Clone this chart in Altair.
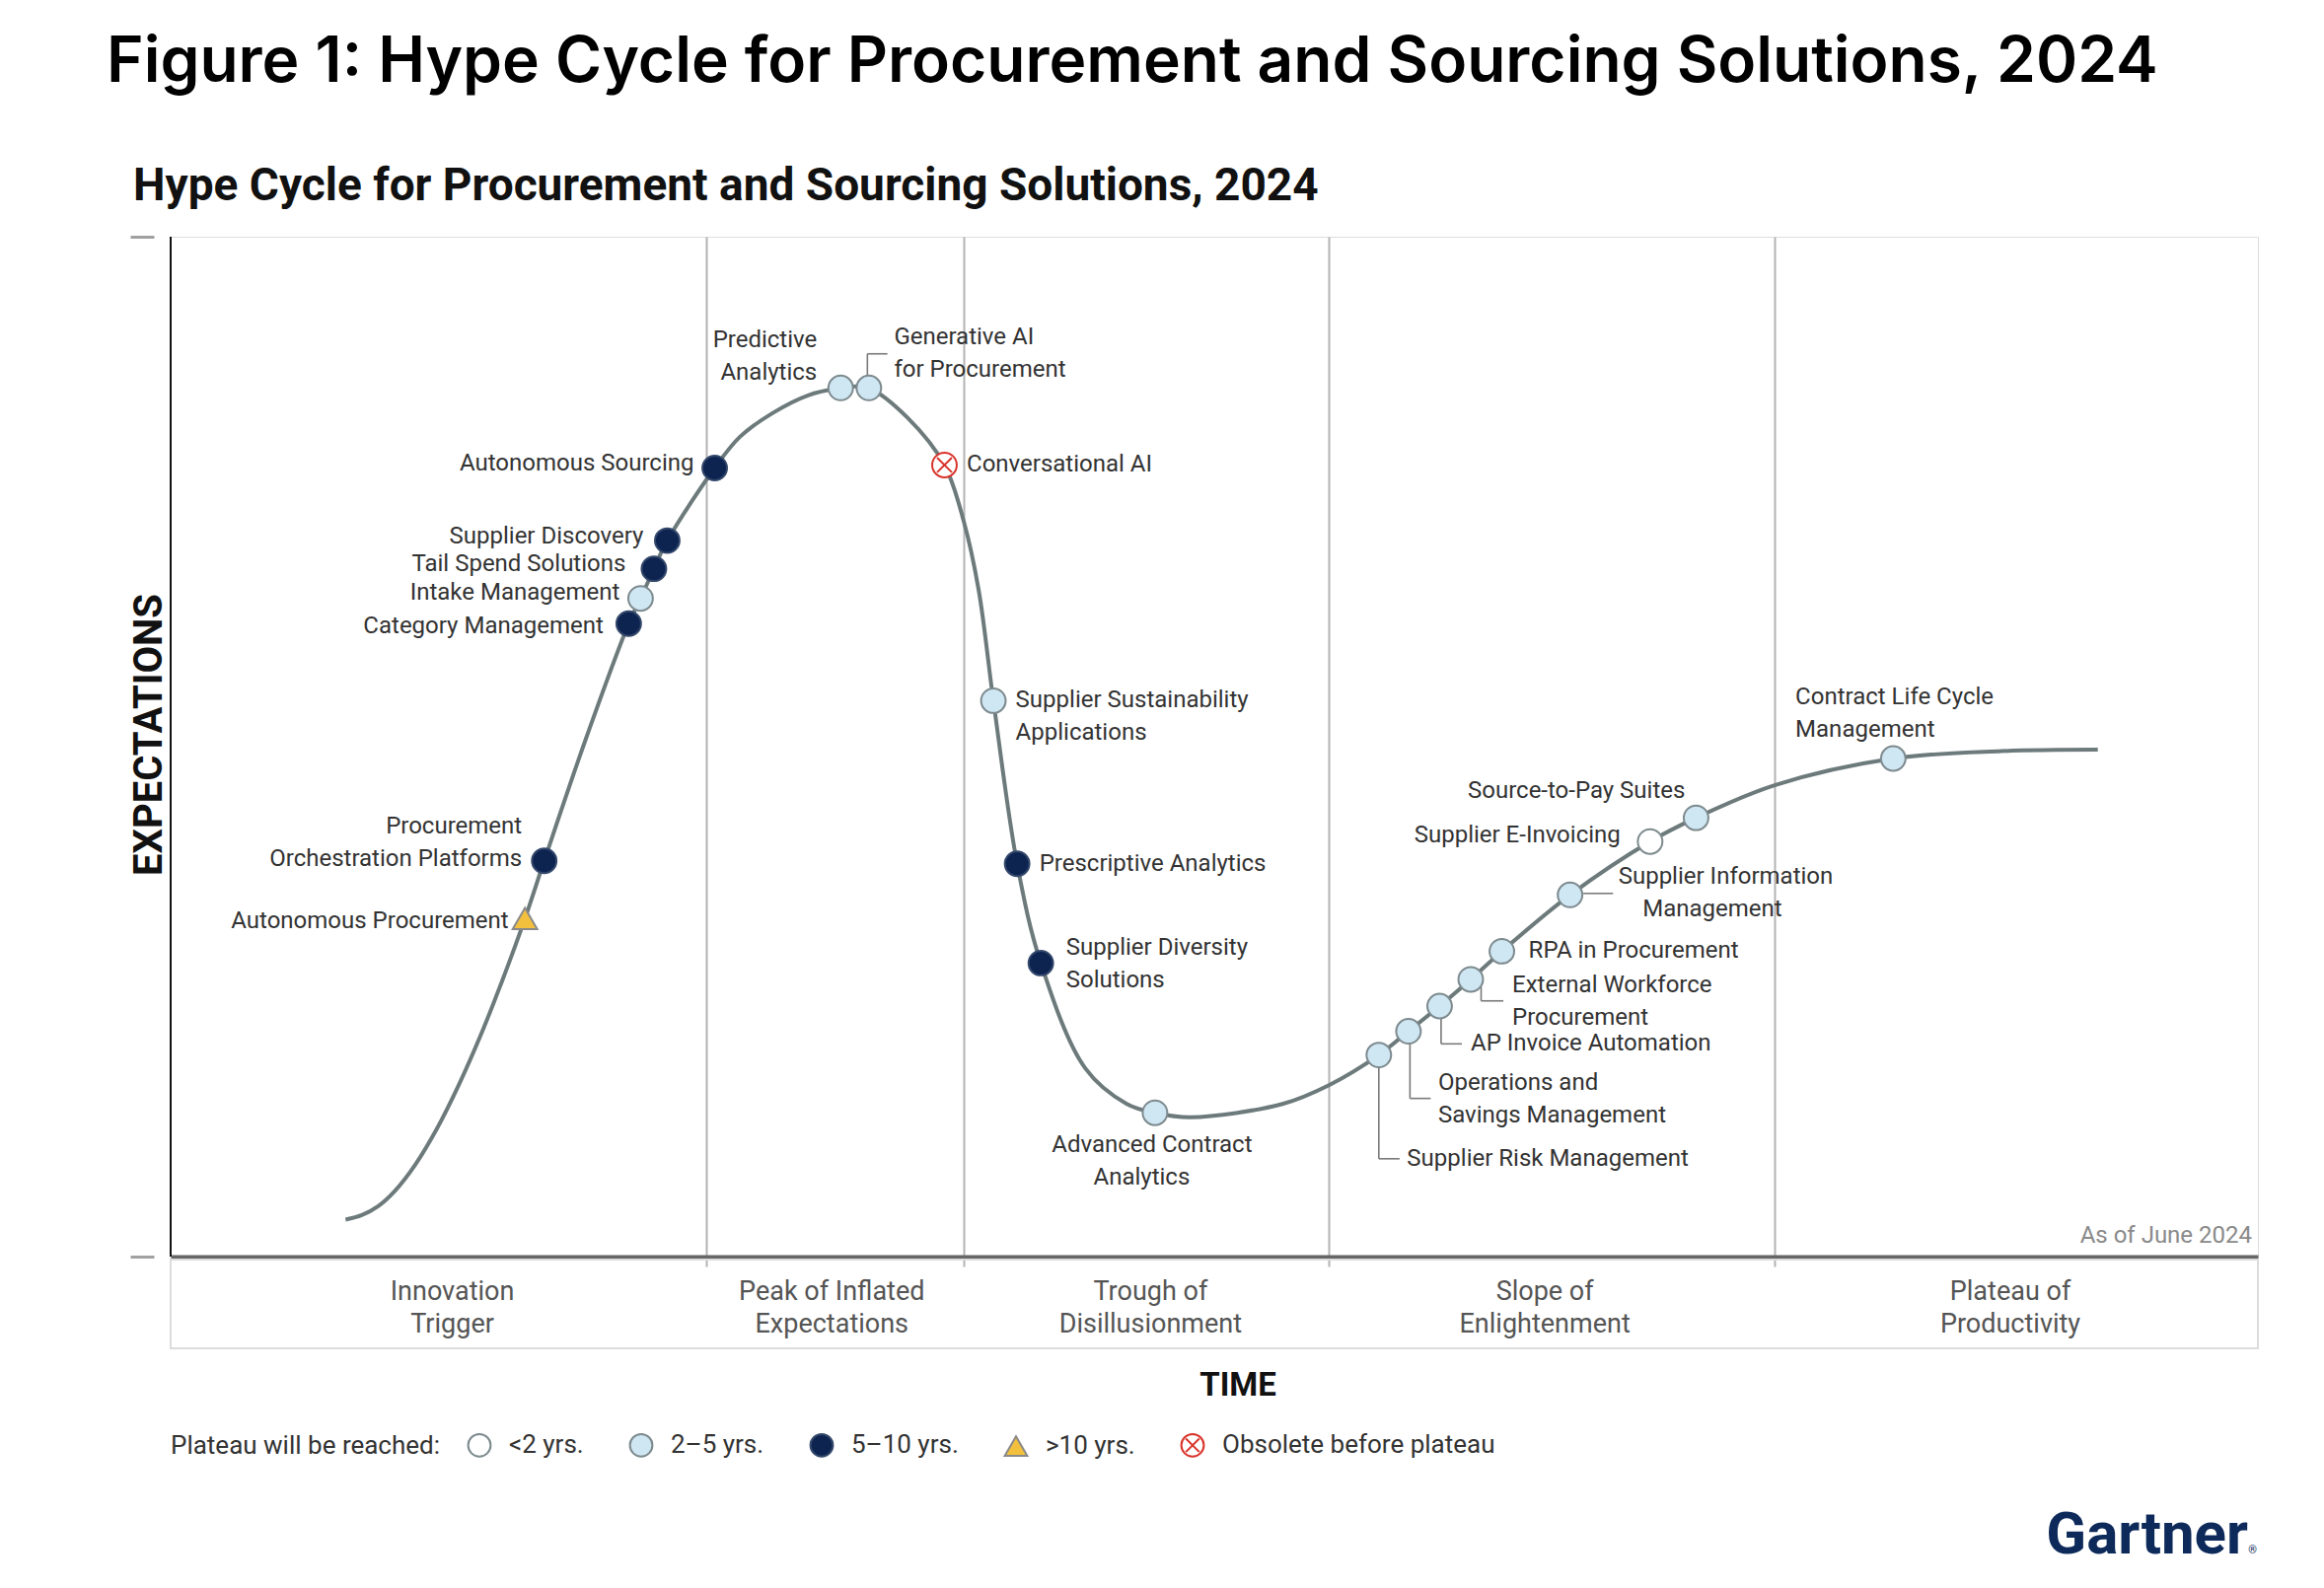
import altair as alt
import pandas as pd

# ---------------- data (time units 0..1408, expectation units 0..688) ----------------
phase_bounds = [361, 535, 781, 1082]
phase_line1 = ["Innovation", "Peak of Inflated", "Trough of", "Slope of", "Plateau of"]
phase_line2 = ["Trigger", "Expectations", "Disillusionment", "Enlightenment", "Productivity"]
phase_t = [190, 446, 661, 927, 1241]

curve_t = [118, 129, 140, 151, 165, 180, 194, 209, 224, 239, 252, 280, 309, 317, 326, 335, 367, 384,
           406, 430, 452, 462, 471, 497, 522, 535, 545, 555, 571, 587, 617, 645, 664, 688, 750, 782,
           815, 835, 856, 877, 898, 944, 998, 1029, 1082, 1162, 1235, 1300]
curve_e = [25, 28, 34, 44, 62, 87, 115, 149, 187, 228, 267, 349, 427, 444, 464, 483, 532, 553,
           569, 581, 586, 587, 586, 566, 534, 496, 450, 375, 265, 198, 127, 103, 97, 94, 103, 116,
           136, 152, 169, 187, 206, 244, 280, 296, 318, 336, 341, 342]

tech_names = ["Autonomous Procurement", "Procurement Orchestration Platforms", "Category Management",
              "Intake Management", "Tail Spend Solutions", "Supplier Discovery", "Autonomous Sourcing",
              "Predictive Analytics", "Generative AI for Procurement", "Conversational AI",
              "Supplier Sustainability Applications", "Prescriptive Analytics",
              "Supplier Diversity Solutions", "Advanced Contract Analytics", "Supplier Risk Management",
              "Operations and Savings Management", "AP Invoice Automation",
              "External Workforce Procurement", "RPA in Procurement", "Supplier Information Management",
              "Supplier E-Invoicing", "Source-to-Pay Suites", "Contract Life Cycle Management"]
tech_t = [239, 252, 309, 317, 326, 335, 367, 452, 471, 522, 555, 571, 587, 664, 815, 835, 856,
          877, 898, 944, 998, 1029, 1162]
tech_e = [228, 267, 427, 444, 464, 483, 532, 586, 586, 534, 375, 265, 198, 97, 136, 152, 169,
          187, 206, 244, 280, 296, 336]
tech_cat = [">10 yrs.", "5–10 yrs.", "5–10 yrs.", "2–5 yrs.", "5–10 yrs.", "5–10 yrs.", "5–10 yrs.",
            "2–5 yrs.", "2–5 yrs.", "Obsolete before plateau", "2–5 yrs.", "5–10 yrs.", "5–10 yrs.",
            "2–5 yrs.", "2–5 yrs.", "2–5 yrs.", "2–5 yrs.", "2–5 yrs.", "2–5 yrs.", "2–5 yrs.",
            "<2 yrs.", "2–5 yrs.", "2–5 yrs."]

categories = ["<2 yrs.", "2–5 yrs.", "5–10 yrs.", ">10 yrs.", "Obsolete before plateau"]
cat_fill = ["#ffffff", "#cfe6f3", "#0d2451", "#f3c03e", "#ffffff"]
cat_stroke = ["#7d8a8e", "#7d8a8e", "#34486b", "#8a8a8a", "#d9342b"]
OBS_PATH = "M-1,0A1,1,0,1,0,1,0A1,1,0,1,0,-1,0Z M-0.6,-0.6L0.6,0.6 M-0.6,0.6L0.6,-0.6"
cat_shape = ["circle", "circle", "circle", "triangle-up", OBS_PATH]

# label lines (text, t, e)
lab_right_text = ["Autonomous Sourcing", "Supplier Discovery", "Tail Spend Solutions", "Intake Management",
                  "Category Management", "Procurement", "Orchestration Platforms", "Autonomous Procurement",
                  "Predictive", "Analytics", "Supplier E-Invoicing"]
lab_right_t = [353, 319, 307, 303, 292, 237, 237, 228, 436, 436, 978]
lab_right_e = [535, 486, 467, 448, 425, 290, 268, 226, 618, 596, 284]

lab_left_text = ["Generative AI", "for Procurement", "Conversational AI", "Supplier Sustainability",
                 "Applications", "Prescriptive Analytics", "Supplier Diversity", "Solutions",
                 "Source-to-Pay Suites", "RPA in Procurement", "External Workforce", "Procurement",
                 "AP Invoice Automation", "Operations and", "Savings Management",
                 "Supplier Risk Management", "Contract Life Cycle", "Management"]
lab_left_t = [488, 488, 537, 570, 570, 586, 604, 604, 875, 916, 905, 905, 877, 855, 855, 834, 1096, 1096]
lab_left_e = [620, 598, 534, 375, 353, 265, 208, 186, 314, 206, 183, 161, 144, 117, 95, 66, 377, 355]

lab_center_text = ["Advanced Contract", "Analytics", "Supplier Information", "Management"]
lab_center_t = [662, 655, 1049, 1040]
lab_center_e = [75, 53, 256, 234]

# leader lines (t, e) -> (t2, e2)
conn_t = [470, 470, 953, 884, 884, 857, 857, 836, 836, 815, 815]
conn_e = [593, 609, 245, 182, 172.5, 161, 143.5, 144, 106.7, 128, 66]
conn_t2 = [470, 483.5, 973, 884, 899, 857, 871, 836, 850, 815, 829]
conn_e2 = [609, 609, 245, 172.5, 172.5, 143.5, 143.5, 106.7, 106.7, 66, 66]

# ---------------- frames ----------------
curve_df = pd.DataFrame({"t": curve_t, "e": curve_e})
tech_df = pd.DataFrame({"name": tech_names, "t": tech_t, "e": tech_e, "cat": tech_cat})
lr_df = pd.DataFrame({"text": lab_right_text, "t": lab_right_t, "e": lab_right_e})
ll_df = pd.DataFrame({"text": lab_left_text, "t": lab_left_t, "e": lab_left_e})
lc_df = pd.DataFrame({"text": lab_center_text, "t": lab_center_t, "e": lab_center_e})
conn_df = pd.DataFrame({"t": conn_t, "e": conn_e, "t2": conn_t2, "e2": conn_e2})
phase_df = pd.DataFrame({"l1": phase_line1, "l2": phase_line2, "t": phase_t})

W, H = 2116, 1034
XMAX, YMAX = 1408, 688
FONT = "Roboto"

xs = alt.Scale(domain=[0, XMAX], nice=False, zero=False)
ys = alt.Scale(domain=[0, YMAX], nice=False, zero=False)
xaxis = alt.Axis(values=phase_bounds, grid=True, gridColor="#b3b3b3", gridWidth=2, ticks=True,
                 tickSize=10, tickColor="#b3b3b3", tickWidth=2, labels=False, domain=True,
                 domainColor="#666666", domainWidth=4, title=None)
yaxis = alt.Axis(values=[0, YMAX], grid=False, domain=False, labels=False, ticks=True, tickSize=24,
                 tickColor="#a0a0a0", tickWidth=3, offset=17, title=None)


def X(f):
    return alt.X(f, type="quantitative", scale=xs, axis=xaxis)


def Y(f):
    return alt.Y(f, type="quantitative", scale=ys, axis=yaxis)


band = alt.Chart(pd.DataFrame({"t": [0], "t2": [XMAX]})).mark_rect(
    fill=None, stroke="#dcdcdc", strokeWidth=2
).encode(x=X("t"), x2="t2", y=alt.value(H + 3), y2=alt.value(H + 93))

frame = alt.Chart(pd.DataFrame({"t": [0]})).mark_rule(color="#111111", strokeWidth=2).encode(x=X("t"))

curve = alt.Chart(curve_df).mark_line(interpolate="catmull-rom", color="#6d7a7b", strokeWidth=4).encode(
    x=X("t"), y=Y("e"))

conns = alt.Chart(conn_df).mark_rule(color="#7a7a7a", strokeWidth=1.6).encode(
    x=X("t"), y=Y("e"), x2="t2", y2="e2")

leg = alt.Legend(title="Plateau will be reached:", orient="none", legendX=0, legendY=1212,
                 direction="horizontal", titleOrient="left", titleFont=FONT, titleFontSize=26,
                 titleFontWeight="normal", titleColor="#333333", labelFont=FONT, labelFontSize=26,
                 labelColor="#333333", symbolSize=520, symbolStrokeWidth=2, columnPadding=42,
                 labelOffset=17, titlePadding=26, titleBaseline="middle", labelLimit=600,
                 titleLimit=600)

pts = alt.Chart(tech_df).mark_point(filled=True, size=620, strokeWidth=2, opacity=1).encode(
    x=X("t"), y=Y("e"),
    fill=alt.Fill("cat:N", scale=alt.Scale(domain=categories, range=cat_fill), legend=leg),
    stroke=alt.Stroke("cat:N", scale=alt.Scale(domain=categories, range=cat_stroke), legend=leg),
    shape=alt.Shape("cat:N", scale=alt.Scale(domain=categories, range=cat_shape), legend=leg),
)


def labels(df, align):
    return alt.Chart(df).mark_text(font=FONT, fontSize=24, color="#333333", align=align,
                                   baseline="middle").encode(x=X("t"), y=Y("e"), text="text:N")


phase1 = alt.Chart(phase_df).mark_text(font=FONT, fontSize=27, color="#555555", align="center",
                                       baseline="middle").encode(x=X("t"), y=alt.value(H + 36), text="l1:N")
phase2 = alt.Chart(phase_df).mark_text(font=FONT, fontSize=27, color="#555555", align="center",
                                       baseline="middle").encode(x=X("t"), y=alt.value(H + 69), text="l2:N")


def note(text, x, y, **kw):
    return alt.Chart(pd.DataFrame({"s": [text]})).mark_text(**kw).encode(
        x=alt.value(x), y=alt.value(y), text="s:N")


fig_title = note("Figure 1: Hype Cycle for Procurement and Sourcing Solutions, 2024", -65, -157,
                 font="Inter", fontSize=64, fontWeight=600, color="#000000", align="left",
                 baseline="alphabetic")
sub_title = note("Hype Cycle for Procurement and Sourcing Solutions, 2024", -38, -37,
                 font=FONT, fontSize=46, fontWeight="bold", color="#111111", align="left",
                 baseline="alphabetic")
y_title = note("EXPECTATIONS", -21, 505, font=FONT, fontSize=40, fontWeight="bold", color="#111111",
               align="center", baseline="middle", angle=270)
x_title = note("TIME", 1082, 1165, font=FONT, fontSize=33, fontWeight="bold", color="#111111",
               align="center", baseline="middle")
asof = note("As of June 2024", 2110, 1013, font=FONT, fontSize=24, color="#8a8a8a", align="right",
            baseline="middle")
logo = note("Gartner", 2106, 1335, font=FONT, fontSize=60, fontWeight="bold", color="#0d2a5a",
            align="right", baseline="alphabetic")
logo_r = note("®", 2115, 1335, font=FONT, fontSize=11, color="#0d2a5a", align="right",
              baseline="alphabetic")

chart = alt.layer(
    band, frame, curve, conns, pts,
    labels(lr_df, "right"), labels(ll_df, "left"), labels(lc_df, "center"),
    phase1, phase2, fig_title, sub_title, y_title, x_title, asof, logo, logo_r,
).properties(
    width=W, height=H,
    autosize=alt.AutoSizeParams(type="none"),
    padding={"left": 165, "top": 232, "right": 50, "bottom": 320},
).configure_view(stroke="#d8d8d8", strokeWidth=3).configure(background="white")

chart.save("out.html", embed_options={"renderer": "svg", "actions": False})
